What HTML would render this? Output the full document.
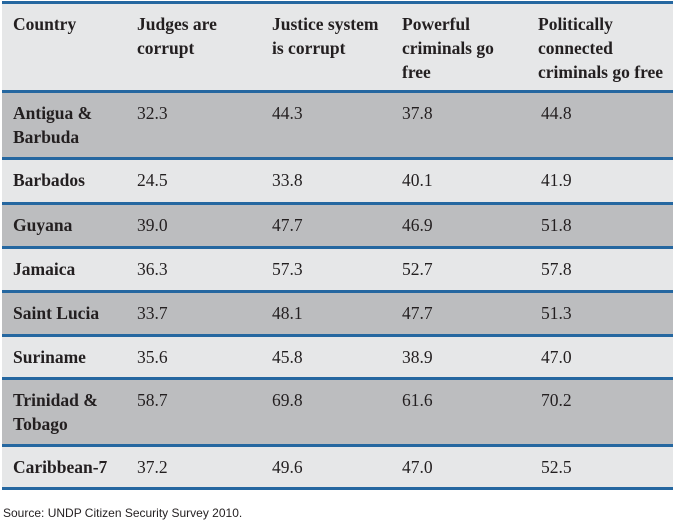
<!DOCTYPE html>
<html><head><meta charset="utf-8"><style>
body{margin:0;width:678px;height:519px;background:#fff;position:relative;overflow:hidden;font-family:"Liberation Serif",serif;color:#231f20}
.row{position:absolute;left:2px;width:671px}
.b{position:absolute;left:2px;width:671px;height:3px;background:#2567a0}
.c{position:absolute;font-size:17.5px;line-height:24px;top:10px;white-space:nowrap}
.h{font-weight:bold}
.src{position:absolute;left:3px;top:506px;font-family:"Liberation Sans",sans-serif;font-size:12px;color:#231f20}
</style></head><body>
<div id="t"></div>
<div class="src">Source: UNDP Citizen Security Survey 2010.</div>
<script>
const headers=["Country","Judges are<br>corrupt","Justice system<br>is corrupt","Powerful<br>criminals go<br>free","Politically<br>connected<br>criminals go free"];
const countries=["Antigua &amp;<br>Barbuda","Barbados","Guyana","Jamaica","Saint Lucia","Suriname","Trinidad &amp;<br>Tobago","Caribbean-7"];
const judges=["32.3","24.5","39.0","36.3","33.7","35.6","58.7","37.2"];
const justice=["44.3","33.8","47.7","57.3","48.1","45.8","69.8","49.6"];
const powerful=["37.8","40.1","46.9","52.7","47.7","38.9","61.6","47.0"];
const political=["44.8","41.9","51.8","57.8","51.3","47.0","70.2","52.5"];
const bounds=[2,91,158,203,247,291,335,378,445,488];
const colX=[13,137,272,402,538];
const t=document.getElementById('t');
function row(top,h,bg,cells,name,hdr){
 const r=document.createElement('div');r.className='row';r.style.top=top+'px';r.style.height=h+'px';r.style.background=bg;
 
 
 cells.forEach((c,i)=>{const d=document.createElement('div');d.className='c'+(hdr||i==0?' h':'');d.style.left=(colX[i]-2+(i==4&&!hdr?3:0))+'px';d.innerHTML=c;
 
 
 r.appendChild(d);});
 t.appendChild(r);
}
row(bounds[0],bounds[1]-bounds[0],'#e6e7e8',headers,'header-row',true);
countries.forEach((c,i)=>{row(bounds[i+1],bounds[i+2]-bounds[i+1],i%2==0?'#bcbdbf':'#e6e7e8',[c,judges[i],justice[i],powerful[i],political[i]],'data-row',false);});
bounds.forEach(y=>{const b=document.createElement('div');b.className='b';b.style.top=(y-1)+'px';


t.appendChild(b);});
</script>
</body></html>
